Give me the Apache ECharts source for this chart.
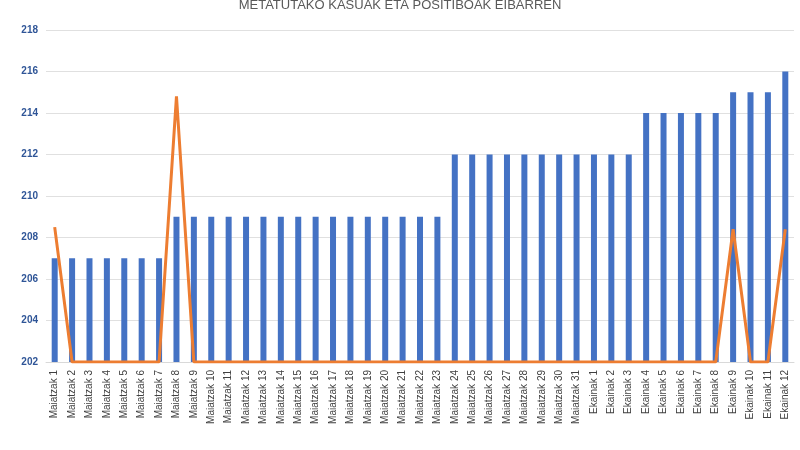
<!DOCTYPE html>
<html>
<head>
<meta charset="utf-8">
<script src="https://cdn.jsdelivr.net/npm/echarts@6/dist/echarts.min.js"></script>
<style>html,body{margin:0;padding:0;background:#fff}#main{width:800px;height:450px}</style>
</head>
<body>
<div id="main"></div>
<script>
var categories = [];
for (var d = 1; d <= 31; d++) categories.push('Maiatzak ' + d);
for (var e = 1; e <= 12; e++) categories.push('Ekainak ' + e);

// metatutako kasuak
var kasuak = [207,207,207,207,207,207,207,
  209,209,209,209,209,209,209,209,209,209,209,209,209,209,209,209,
  212,212,212,212,212,212,212,212,212,212,212,
  214,214,214,214,214,
  215,215,215,216];
// positiboak (ardatzaren behealdean mozten dira)
var positiboak = [208.5,202,202,202,202,202,202,214.8,202,202,202,202,202,202,202,202,202,202,202,202,202,202,202,
  202,202,202,202,202,202,202,202,202,202,202,
  202,202,202,202,202,
  208.4,202,202,208.4];

var chart = echarts.init(document.getElementById('main'));
chart.setOption({
  animation: false,
  title: {
    text: 'METATUTAKO KASUAK ETA POSITIBOAK EIBARREN',
    left: 'center',
    top: -6,
    textStyle: { fontSize: 13, fontWeight: 'normal', color: '#595959', fontFamily: 'Liberation Sans' }
  },
  grid: { left: 46, right: 6, top: 30, bottom: 88 },
  xAxis: {
    type: 'category',
    data: categories,
    axisTick: { show: false },
    axisLine: { lineStyle: { color: '#d9d9d9' } },
    axisLabel: { rotate: 90, interval: 0, fontSize: 10, color: '#404040', fontFamily: 'Liberation Sans' }
  },
  yAxis: {
    type: 'value',
    min: 202, max: 218, interval: 2,
    axisLabel: { fontSize: 10, color: '#2F5597', fontWeight: 'bold', fontFamily: 'Liberation Sans' },
    splitLine: { lineStyle: { color: '#e0e0e0' } }
  },
  series: [{
    type: 'bar',
    data: kasuak,
    barWidth: 6,
    itemStyle: { color: '#4472C4' }
  }, {
    type: 'line',
    data: positiboak,
    symbol: 'none',
    lineStyle: { color: '#ED7D31', width: 3 }
  }]
});
</script>
</body>
</html>
